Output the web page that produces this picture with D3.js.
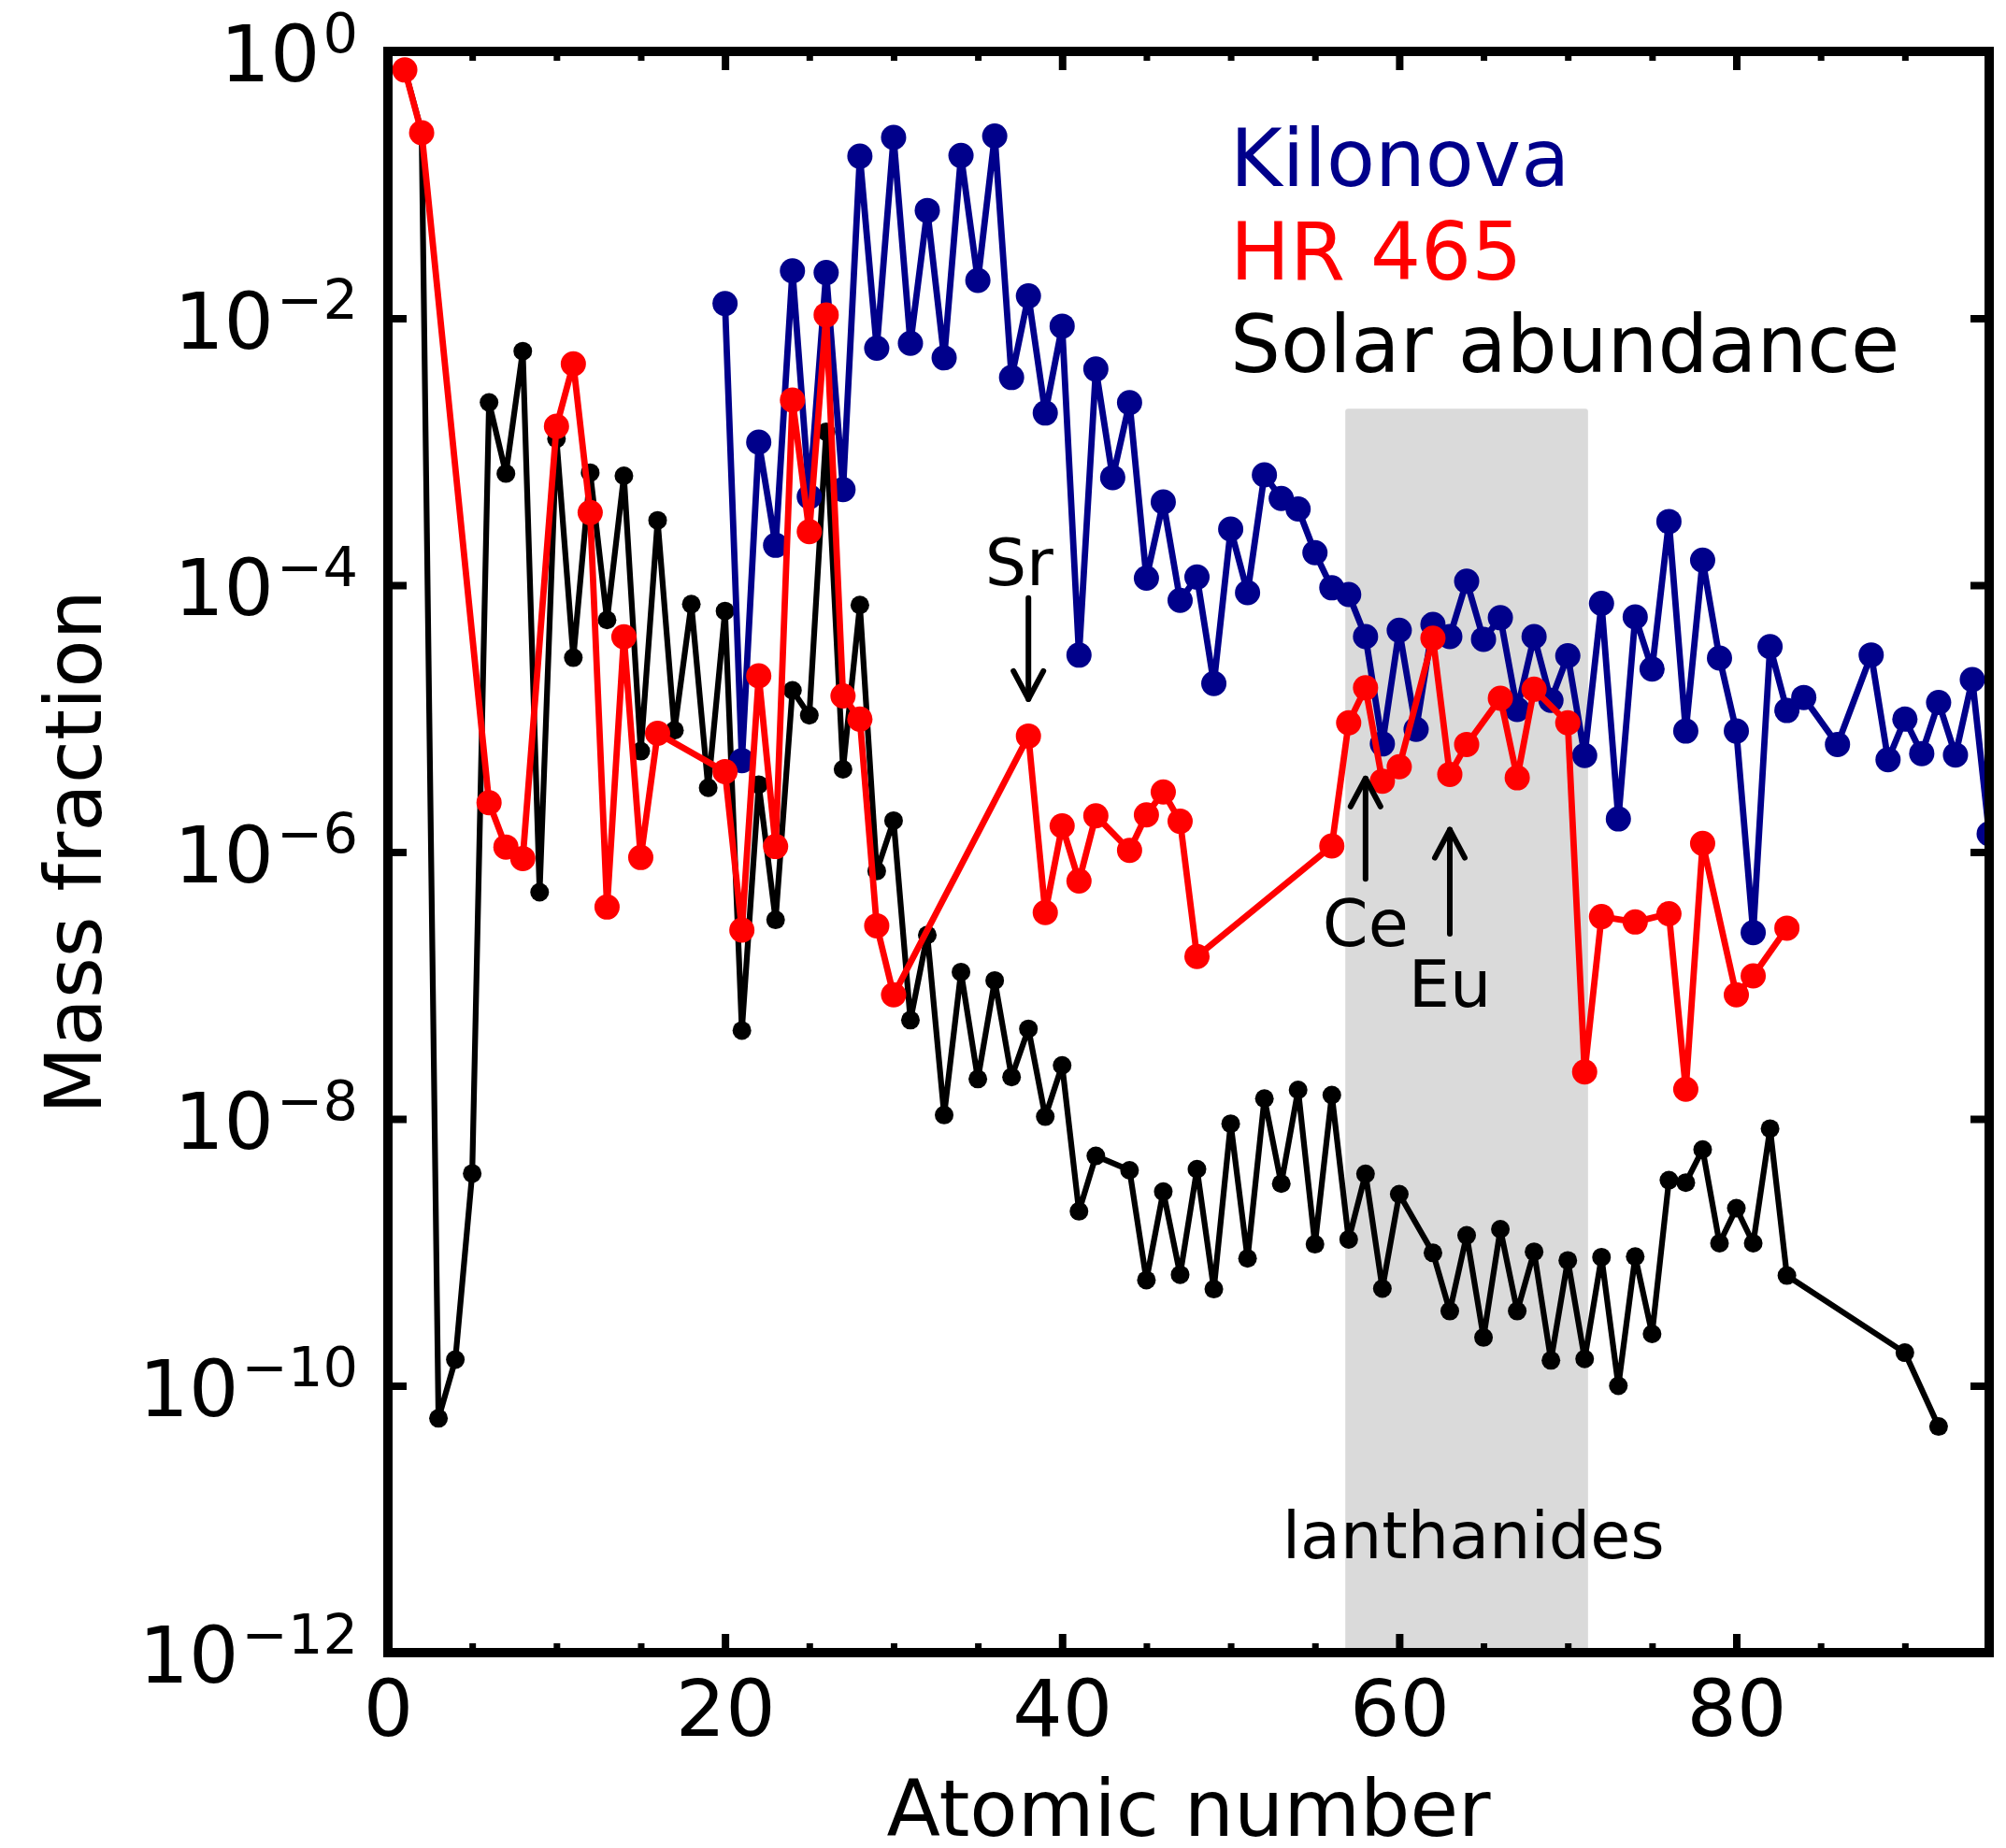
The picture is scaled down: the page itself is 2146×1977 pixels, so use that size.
<!DOCTYPE html>
<html>
<head>
<meta charset="utf-8">
<script src="https://cdn.jsdelivr.net/npm/d3@7"></script>
<style>
  html, body { margin: 0; padding: 0; background: #ffffff; }
  svg { display: block; font-family: "DejaVu Sans", sans-serif; }
</style>
</head>
<body>
<svg id="chart" width="2146" height="1977"></svg>
<script>
// ---- Mass fractions by atomic number ----
const solarZ = [1,2,3,4,5,6,7,8,9,10,11,12,13,14,15,16,17,18,19,20,21,22,23,24,25,26,27,28,29,30,
  31,32,33,34,35,36,37,38,39,40,41,42,44,45,46,47,48,49,50,51,52,53,54,55,56,57,58,59,60,
  62,63,64,65,66,67,68,69,70,71,72,73,74,75,76,77,78,79,80,81,82,83,90,92];
const solarMass = [0.73,0.25,5.7e-11,1.57e-10,3.9e-9,2.34e-3,6.86e-4,5.67e-3,5.0e-7,1.25e-3,
  2.86e-5,6.97e-4,5.48e-5,6.6e-4,5.7e-6,3.06e-4,8.18e-6,7.2e-5,3.03e-6,6.4e-5,
  4.6e-8,3.2e-6,3.1e-7,1.63e-5,1.06e-5,1.41e-3,4.17e-6,7.1e-5,7.2e-7,1.72e-6,
  5.5e-8,2.39e-7,1.07e-8,1.26e-7,1.99e-8,1.09e-7,2.06e-8,4.73e-8,1.04e-8,2.52e-8,
  2.03e-9,5.28e-9,4.12e-9,6.2e-10,2.85e-9,6.8e-10,4.2e-9,5.3e-10,9.2e-9,9.0e-10,
  1.42e-8,3.27e-9,1.65e-8,1.15e-9,1.51e-8,1.25e-9,3.87e-9,5.35e-10,2.73e-9,
  9.9e-10,3.63e-10,1.34e-9,2.3e-10,1.49e-9,3.63e-10,1.01e-9,1.55e-10,8.7e-10,1.59e-10,
  9.2e-10,1.0e-10,9.3e-10,2.45e-10,3.47e-9,3.33e-9,5.9e-9,1.17e-9,2.14e-9,1.17e-9,
  8.45e-9,6.7e-10,1.77e-10,4.95e-11];

const kilonovaZ = [20,21,22,23,24,25,26,27,28,29,30,31,32,33,34,35,36,37,38,39,40,41,42,43,44,45,
  46,47,48,49,50,51,52,53,54,55,56,57,58,59,60,61,62,63,64,65,66,67,68,69,70,71,72,73,74,75,
  76,77,78,79,80,81,82,83,84,86,88,89,90,91,92,93,94,95];
const kilonovaMass = [1.29e-2,4.84e-6,1.18e-3,1.99e-4,2.27e-2,4.6e-4,2.2e-2,5.2e-4,0.164,5.97e-3,
  0.227,6.5e-3,6.43e-2,5.05e-3,0.166,1.92e-2,0.232,3.6e-3,1.47e-2,1.95e-3,8.73e-3,2.99e-5,
  4.16e-3,6.4e-4,2.33e-3,1.13e-4,4.2e-4,7.7e-5,1.15e-4,1.83e-5,2.63e-4,8.8e-5,6.7e-4,4.46e-4,
  3.72e-4,1.75e-4,9.55e-5,8.5e-5,4.12e-5,6.46e-6,4.59e-5,8.3e-6,5.08e-5,4.12e-5,1.07e-4,
  3.93e-5,5.7e-5,1.17e-5,4.12e-5,1.37e-5,2.96e-5,5.29e-6,7.3e-5,1.77e-6,5.78e-5,2.35e-5,
  3.0e-4,8.06e-6,1.54e-4,2.84e-5,8.06e-6,2.49e-7,3.46e-5,1.15e-5,1.44e-5,6.4e-6,3.0e-5,
  4.92e-6,9.9e-6,5.47e-6,1.32e-5,5.34e-6,1.96e-5,1.37e-6];

const hr465Z = [1,2,6,7,8,10,11,12,13,14,15,16,20,21,22,23,24,25,26,27,28,29,30,38,39,40,41,42,
  44,45,46,47,48,56,57,58,59,60,62,63,64,66,67,68,70,71,72,74,76,77,78,80,81,83];
const hr465Mass = [0.726,0.246,2.34e-6,1.09e-6,8.95e-7,1.55e-3,4.56e-3,3.5e-4,3.87e-7,4.1e-5,
  9.1e-7,7.76e-6,4.0e-6,2.6e-7,2.09e-5,1.1e-6,2.44e-3,2.52e-4,1.06e-2,1.48e-5,9.9e-6,2.8e-7,
  8.5e-8,7.4e-6,3.52e-7,1.57e-6,6.06e-7,1.87e-6,1.03e-6,1.9e-6,2.82e-6,1.7e-6,1.65e-7,
  1.11e-6,9.3e-6,1.7e-5,3.4e-6,4.36e-6,4.0e-5,3.82e-6,6.4e-6,1.42e-5,3.6e-6,1.66e-5,9.3e-6,
  2.25e-8,3.28e-7,2.99e-7,3.45e-7,1.67e-8,1.16e-6,8.5e-8,1.18e-7,2.69e-7];

// ---- Axis ticks ----
const xMajorTicks = [0, 20, 40, 60, 80];
const xMinorTicks = [5, 10, 15, 25, 30, 35, 45, 50, 55, 65, 70, 75, 85, 90];
const yTicks = [1e0, 1e-2, 1e-4, 1e-6, 1e-8, 1e-10, 1e-12];
const yTickExponents = ["0", "\u22122", "\u22124", "\u22126", "\u22128", "\u221210", "\u221212"];

// ---- Legend entries ----
const legendLabels = ["Kilonova", "HR 465", "Solar abundance"];
const legendColors = ["#00008b", "#ff0000", "#000000"];

// ---- Lanthanide band and element markers ----
const bandZ = [56.8, 71.2];
const bandMass = [1e-12, 2.1e-3];
const bandLabel = { text: "lanthanides", z: 64.4, mass: 5.1e-12 };
const arrowLabels = ["Sr", "Ce", "Eu"];
const arrowZ = [38, 58, 63];
const arrowTail = [8.0e-5, 6.3e-7, 2.44e-7];
const arrowTip = [1.4e-5, 3.56e-6, 1.47e-6];
const arrowTextZ = [37.45, 58, 63];
const arrowTextMass = [1.0e-4, 1.98e-7, 6.9e-8];

// ---- Layout ----
const plotLeft = 415, plotRight = 2128, plotTop = 55, plotBottom = 1768;
const svg = d3.select("#chart");

const x = d3.scaleLinear().domain([0, 95]).range([plotLeft, plotRight]);
const y = d3.scaleLog().domain([1e-12, 1]).range([plotBottom, plotTop]);

svg.append("rect").attr("width", 2146).attr("height", 1977).attr("fill", "#ffffff");

svg.append("defs").append("clipPath").attr("id", "plotclip")
  .append("rect").attr("x", plotLeft).attr("y", plotTop)
  .attr("width", plotRight - plotLeft).attr("height", plotBottom - plotTop);

// Lanthanide shading
svg.append("rect")
  .attr("x", x(bandZ[0])).attr("y", y(bandMass[1]))
  .attr("width", x(bandZ[1]) - x(bandZ[0]))
  .attr("height", y(bandMass[0]) - y(bandMass[1]))
  .attr("rx", 3)
  .attr("fill", "#dadada");

svg.append("text")
  .attr("x", x(bandLabel.z)).attr("y", y(bandLabel.mass))
  .attr("text-anchor", "middle")
  .attr("font-size", 70)
  .attr("fill", "#000")
  .text(bandLabel.text);

// Series
const seriesList = [
  { z: solarZ, m: solarMass, color: "#000000", r: 10, w: 6.2 },
  { z: kilonovaZ, m: kilonovaMass, color: "#00008b", r: 13.5, w: 6.8 },
  { z: hr465Z, m: hr465Mass, color: "#ff0000", r: 13.5, w: 6.8 }
];

const dataLayer = svg.append("g").attr("clip-path", "url(#plotclip)");
const line = d3.line().x(d => x(d[0])).y(d => y(d[1]));

seriesList.forEach(s => {
  const pts = s.z.map((z, i) => [z, s.m[i]]);
  const g = dataLayer.append("g");
  g.append("path")
    .attr("d", line(pts))
    .attr("fill", "none")
    .attr("stroke", s.color)
    .attr("stroke-width", s.w)
    .attr("stroke-linejoin", "round")
    .attr("stroke-linecap", "round");
  g.selectAll("circle").data(pts).join("circle")
    .attr("cx", d => x(d[0]))
    .attr("cy", d => y(d[1]))
    .attr("r", s.r)
    .attr("fill", s.color);
});

// Arrows pointing at Sr, Ce, Eu
arrowLabels.forEach((lab, i) => {
  const ax = x(arrowZ[i]);
  const y0 = y(arrowTail[i]), y1 = y(arrowTip[i]);
  const dir = y1 > y0 ? 1 : -1;
  const head = 30, half = 16;
  const g = svg.append("g")
    .attr("fill", "none").attr("stroke", "#000")
    .attr("stroke-width", 6).attr("stroke-linecap", "round").attr("stroke-linejoin", "round");
  g.append("path").attr("d", `M${ax},${y0}L${ax},${y1}`);
  g.append("path").attr("d",
    `M${ax - half},${y1 - dir * head}L${ax},${y1}L${ax + half},${y1 - dir * head}`);
  svg.append("text")
    .attr("x", x(arrowTextZ[i])).attr("y", y(arrowTextMass[i]))
    .attr("text-anchor", "middle")
    .attr("font-size", 70)
    .attr("fill", "#000")
    .text(lab);
});

// Legend text
legendLabels.forEach((lab, i) => {
  svg.append("text")
    .attr("x", 1316).attr("y", 199 + i * 99.5)
    .attr("font-size", 85)
    .attr("fill", legendColors[i])
    .text(lab);
});

// Ticks (inward on all four sides)
function styleTicks(g, width) {
  g.select(".domain").remove();
  g.selectAll(".tick line").attr("stroke", "#000").attr("stroke-width", width);
  g.selectAll(".tick text").remove();
}

svg.append("g").attr("transform", `translate(0,${plotBottom})`)
  .call(d3.axisBottom(x).tickValues(xMinorTicks).tickSize(-10))
  .call(g => styleTicks(g, 7));
svg.append("g").attr("transform", `translate(0,${plotTop})`)
  .call(d3.axisTop(x).tickValues(xMinorTicks).tickSize(-10))
  .call(g => styleTicks(g, 7));
svg.append("g").attr("transform", `translate(0,${plotTop})`)
  .call(d3.axisTop(x).tickValues(xMajorTicks).tickSize(-20))
  .call(g => styleTicks(g, 8));
svg.append("g").attr("transform", `translate(${plotRight},0)`)
  .call(d3.axisRight(y).tickValues(yTicks).tickSize(-20))
  .call(g => styleTicks(g, 8));

// Bottom major ticks with labels
const xAxis = svg.append("g").attr("transform", `translate(0,${plotBottom})`)
  .call(d3.axisBottom(x).tickValues(xMajorTicks).tickSize(-20).tickPadding(29.5)
    .tickFormat(d3.format("d")));
xAxis.select(".domain").remove();
xAxis.selectAll(".tick line").attr("stroke", "#000").attr("stroke-width", 8);
xAxis.selectAll(".tick text")
  .attr("font-size", 84).attr("font-family", "DejaVu Sans, sans-serif").attr("fill", "#000");

// Left major ticks with power-of-ten labels
const yAxis = svg.append("g").attr("transform", `translate(${plotLeft},0)`)
  .call(d3.axisLeft(y).tickValues(yTicks).tickSize(-20).tickFormat(""));
yAxis.select(".domain").remove();
yAxis.selectAll(".tick line").attr("stroke", "#000").attr("stroke-width", 8);

yTicks.forEach((v, i) => {
  const t = svg.append("text")
    .attr("x", 383).attr("y", y(v) + 32)
    .attr("text-anchor", "end")
    .attr("font-size", 84)
    .attr("fill", "#000");
  t.append("tspan").text("10");
  t.append("tspan").attr("dx", 3).attr("dy", -31.5).attr("font-size", 59).text(yTickExponents[i]);
});

// Frame
svg.append("rect")
  .attr("x", plotLeft).attr("y", plotTop)
  .attr("width", plotRight - plotLeft).attr("height", plotBottom - plotTop)
  .attr("fill", "none").attr("stroke", "#000").attr("stroke-width", 10);

// Axis titles
svg.append("text")
  .attr("x", (plotLeft + plotRight) / 2).attr("y", 1964)
  .attr("text-anchor", "middle").attr("font-size", 84).attr("fill", "#000")
  .text("Atomic number");
svg.append("text")
  .attr("transform", `translate(108,${(plotTop + plotBottom) / 2}) rotate(-90)`)
  .attr("text-anchor", "middle").attr("font-size", 84).attr("fill", "#000")
  .text("Mass fraction");
</script>
</body>
</html>
